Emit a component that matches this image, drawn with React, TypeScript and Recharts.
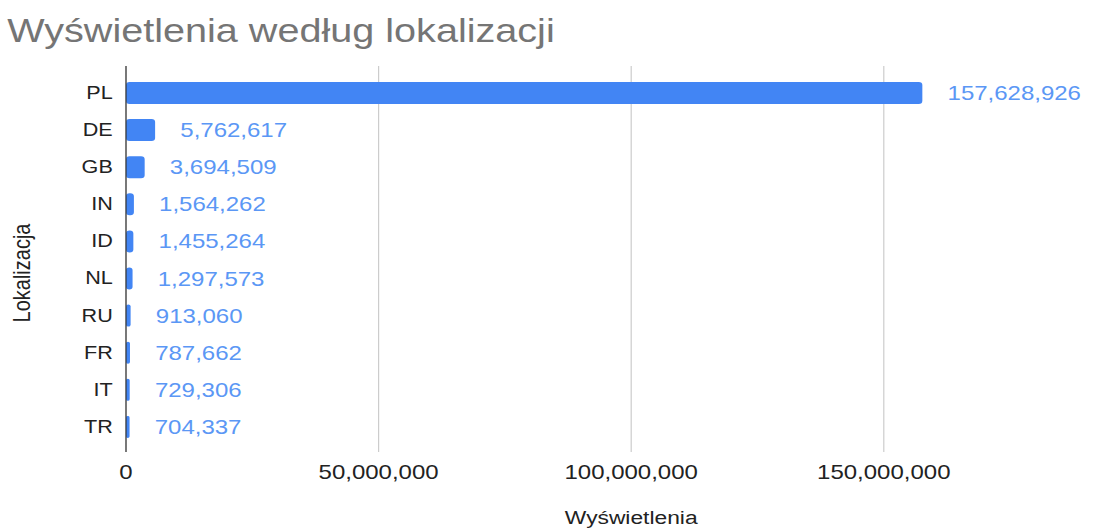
import { Bar, BarChart, CartesianGrid, LabelList, XAxis, YAxis } from 'recharts'

const lokalizacje = ['PL', 'DE', 'GB', 'IN', 'ID', 'NL', 'RU', 'FR', 'IT', 'TR']
const wyswietlenia = [
  157628926, 5762617, 3694509, 1564262, 1455264, 1297573, 913060, 787662, 729306, 704337,
]
const xTicks = [0, 50000000, 100000000, 150000000]

const data = lokalizacje.map((loc, i) => ({ loc, views: wyswietlenia[i] }))

const fmt = (v: number) => Number(v).toLocaleString('en-US')

// the source render is stretched horizontally, so the whole chart is drawn narrower and scaled
const STRETCH = 1.2

export default function App() {
  return (
    <div
      style={{
        position: 'absolute',
        left: 0,
        top: 0,
        width: 1119,
        height: 530,
        overflow: 'hidden',
        background: '#fff',
        fontFamily: '"Liberation Sans", Arial, sans-serif',
      }}
    >
      <div style={{ transform: `scaleX(${STRETCH})`, transformOrigin: '0 0', width: 960, position: 'relative' }}>
        <svg width={900} height={60} style={{ position: 'absolute', left: 0, top: 0 }}>
          <text x={6} y={42} fontSize={33} fill="#757575">
            Wyświetlenia według lokalizacji
          </text>
        </svg>
        <BarChart
          width={960}
          height={530}
          layout="vertical"
          data={data}
          margin={{ top: 66, right: 13, bottom: 0, left: 0 }}
        >
          <CartesianGrid horizontal={false} stroke="#cccccc" />
          <XAxis
            type="number"
            domain={[0, 200000000]}
            ticks={xTicks}
            interval={0}
            tickFormatter={fmt}
            axisLine={false}
            tickLine={false}
            tickSize={0}
            tickMargin={13}
            height={78}
            tick={{ fontSize: 20, fill: '#222' }}
            label={{
              content: ({ viewBox }: any) => (
                <text
                  x={viewBox.x + viewBox.width / 2}
                  y={524}
                  textAnchor="middle"
                  fontSize={19}
                  fill="#222"
                >
                  Wyświetlenia
                </text>
              ),
            }}
          />
          <YAxis
            type="category"
            dataKey="loc"
            width={105}
            interval={0}
            axisLine={{ stroke: '#333' }}
            tickLine={false}
            tickSize={0}
            tickMargin={11}
            padding={{ top: 8, bottom: 7 }}
            tick={{ fontSize: 18, fill: '#222' }}
            label={{
              content: () => (
                <text
                  x={18}
                  y={273}
                  transform="rotate(-90 18 273)"
                  textAnchor="middle"
                  dominantBaseline="central"
                  fontSize={20}
                  fill="#222"
                >
                  Lokalizacja
                </text>
              ),
            }}
          />
          <Bar dataKey="views" fill="#4285F4" barSize={22} radius={3} isAnimationActive={false}>
            <LabelList
              dataKey="views"
              position="right"
              offset={21}
              formatter={(v: any) => fmt(v)}
              fill="#5b97f5"
              fontSize={20}
            />
          </Bar>
        </BarChart>
      </div>
    </div>
  )
}
